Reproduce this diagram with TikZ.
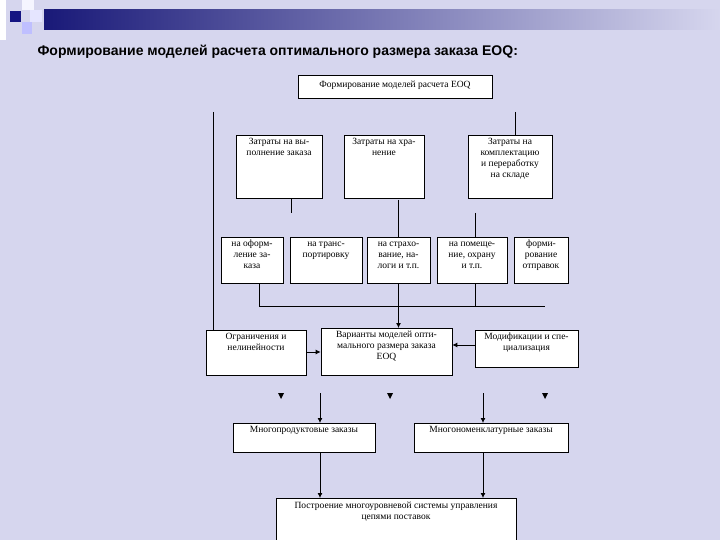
\documentclass[tikz,border=0pt]{standalone}
\usepackage{fontspec}
\setmainfont{Liberation Serif}
\newfontfamily\titlefont{Liberation Sans}
\usetikzlibrary{arrows.meta}
\definecolor{bgc}{RGB}{214,214,238}
\definecolor{navy}{RGB}{20,20,130}
\definecolor{navyb}{RGB}{25,25,120}
\begin{document}
\begin{tikzpicture}[x=1pt,y=-1pt,
 bx/.style={draw,fill=white,line width=0.7pt,inner sep=0pt},
 tx/.style={anchor=north,align=center,font=\fontsize{9.5}{11}\selectfont,inner sep=1pt},
 ln/.style={line width=0.8pt},
 ar/.style={line width=0.8pt,-{Latex[length=5pt,width=5pt]}}]
\fill[bgc] (0,0) rectangle (720,540);
\useasboundingbox (0,0) rectangle (720,540);
% decoration
\fill[white!80!blue!20] (22,0) rectangle (34,10);
\fill[blue!10] (30,10) rectangle (42,22);
\fill[blue!25!white] (22,22) rectangle (32,34);
\fill[white] (0,0) rectangle (6,40);
\fill[navy] (10,11) rectangle (21,22);
\shade[left color=navyb, right color=bgc] (44,10) rectangle (720,30);
\node[anchor=west,font=\titlefont\bfseries\fontsize{14}{16}\selectfont] (title) at (34,52) {Формирование моделей расчета оптимального размера заказа EOQ:};
% boxes
\newcommand\mybox[6]{%
 \node[bx,minimum width=#3,minimum height=#4,anchor=north] (#1) at (#2) {};
 \node[tx] (#1t) at ([yshift=#5]#1.north) {\strut#6};}
\mybox{top}{395,75}{194}{23}{-4pt}{Формирование моделей расчета EOQ}
\mybox{A}{279,135}{86}{63}{-1pt}{Затраты на вы-\\полнение заказа}
\mybox{B}{384,135}{80}{63}{-1pt}{Затраты на хра-\\нение}
\mybox{C}{510,135}{84}{63}{-1pt}{Затраты на\\комплектацию\\и переработку\\на складе}
\mybox{D}{252,237}{62}{46}{-1pt}{на оформ-\\ление за-\\каза}
\mybox{E}{326,237}{72}{46}{-1pt}{на транс-\\портировку}
\mybox{F}{398.5,237}{63}{46}{-1pt}{на страхо-\\вание, на-\\логи и т.п.}
\mybox{G}{472,237}{70}{46}{-1pt}{на помеще-\\ние, охрану\\и т.п.}
\mybox{H}{541,237}{54}{46}{-1pt}{форми-\\рование\\отправок}
\mybox{I}{256,330}{100}{45}{-1pt}{Ограничения и\\нелинейности}
\mybox{J}{386.5,328}{131}{47}{-1pt}{Варианты моделей опти-\\мального размера заказа\\EOQ}
\mybox{K}{526.5,330}{103}{37}{-1pt}{Модификации и спе-\\циализация}
\mybox{L}{304,423}{142}{29}{-1pt}{Многопродуктовые заказы}
\mybox{M}{491,423}{154}{29}{-1pt}{Многономенклатурные заказы}
\mybox{N}{396,498}{240}{42}{-2pt}{Построение многоуровневой системы управления\\цепями поставок}
% connectors
\coordinate (l1) at (213,112);
\draw[ln] (l1) -- (I.north -| l1);
\coordinate (r1) at (515,112);
\draw[ln] (r1) -- (C.north -| r1);
\coordinate (a1) at (291,213);
\draw[ln] (A.south -| a1) -- (a1);
\coordinate (b1) at (398,200);
\draw[ln] (b1) -- (F.north -| b1);
\coordinate (g1) at (475,213);
\draw[ln] (g1) -- (G.north -| g1);
\coordinate (h1) at (259,306);
\coordinate (h2) at (545,306);
\draw[ln] (D.south -| h1) -- (h1) -- (h2);
\draw[ln] (G.south -| g1) -- (g1 |- h1);
\draw[ar] (F.south) -- (J.north -| F.south);
\draw[ar] (I.east |- 0,352) -- (J.west |- 0,352);
\draw[ar] (K.west |- 0,345) -- (J.east |- 0,345);
\foreach \x/\n in {281/p1,390/p2,545/p3}{
 \coordinate (\n) at (\x,397);
 \fill (\n) ++(-3,-4) -- ++(6,0) -- ++(-3,6) -- cycle;}
\coordinate (q1) at (320,393);
\coordinate (q2) at (483,393);
\draw[ar] (q1) -- (L.north -| q1);
\draw[ar] (q2) -- (M.north -| q2);
\draw[ar] (L.south -| q1) -- (N.north -| q1);
\draw[ar] (M.south -| q2) -- (N.north -| q2);
\end{tikzpicture}
\end{document}
